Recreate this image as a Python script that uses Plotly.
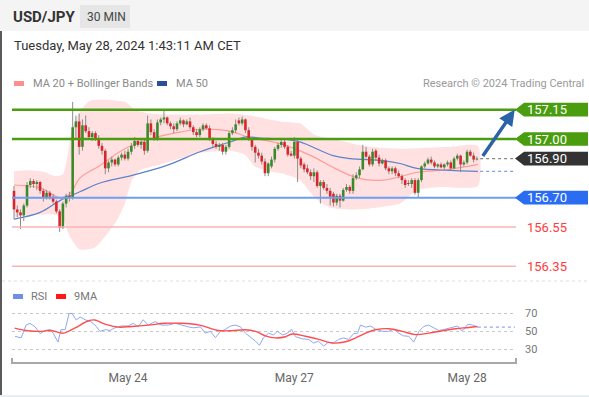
import plotly.graph_objects as go

# ---------------- data ----------------
opens = [156.735,156.64,156.625,156.61,156.66,156.765,156.785,156.77,156.78,156.735,
         156.70,156.725,156.705,156.68,156.63,156.545,156.67,156.71,156.70,157.06,
         157.09,156.96,157.07,157.04,157.01,157.03,157.00,156.965,156.94,156.85,
         156.88,156.895,156.87,156.905,156.92,156.90,156.935,156.965,156.99,156.97,
         156.985,156.94,157.08,157.035,157.00,157.085,157.10,157.11,157.08,157.065,
         157.05,157.08,157.095,157.075,157.09,157.06,157.035,157.02,157.05,157.07,
         157.055,157.00,156.975,156.96,156.97,156.935,156.96,157.03,157.045,157.095,
         157.08,157.10,157.045,157.00,156.96,156.93,156.915,156.885,156.825,156.86,
         156.895,156.95,156.97,156.985,156.96,156.925,156.915,156.985,156.90,156.87,
         156.85,156.83,156.81,156.83,156.76,156.78,156.75,156.735,156.72,156.675,
         156.71,156.685,156.74,156.755,156.735,156.80,156.815,156.845,156.935,156.91,
         156.87,156.94,156.905,156.875,156.89,156.85,156.835,156.85,156.825,156.81,
         156.79,156.775,156.77,156.79,156.725,156.79,156.86,156.875,156.895,156.88,
         156.86,156.87,156.855,156.87,156.88,156.85,156.90,156.915,156.87,156.88,
         156.935,156.915,156.895]
highs = [156.76,156.66,156.64,156.67,156.78,156.80,156.795,156.79,156.785,156.745,
         156.74,156.735,156.72,156.69,156.64,156.68,156.72,156.73,157.19,157.12,
         157.13,157.10,157.12,157.06,157.04,157.04,157.02,156.98,156.95,156.89,
         156.91,156.90,156.915,156.93,156.94,156.95,156.98,157.01,157.00,157.00,
         156.995,157.12,157.10,157.05,157.10,157.11,157.145,157.115,157.09,157.08,
         157.09,157.11,157.10,157.10,157.11,157.07,157.05,157.06,157.08,157.08,
         157.07,157.01,156.99,156.98,156.98,156.97,157.04,157.06,157.10,157.11,
         157.115,157.105,157.06,157.01,156.97,156.95,156.93,156.90,156.88,156.91,
         156.96,156.98,156.995,157.00,156.97,156.94,157.01,156.995,156.91,156.88,
         156.87,156.845,156.85,156.84,156.79,156.79,156.77,156.75,156.73,156.72,
         156.72,156.75,156.77,156.765,156.82,156.83,156.86,156.97,156.96,156.92,
         156.95,156.95,156.92,156.90,156.90,156.86,156.86,156.86,156.84,156.82,
         156.80,156.79,156.80,156.80,156.80,156.865,156.885,156.905,156.91,156.89,
         156.875,156.88,156.875,156.89,156.89,156.91,156.925,156.92,156.89,156.945,
         156.945,156.93,156.91]
lows = [156.59,156.60,156.54,156.58,156.65,156.75,156.75,156.74,156.72,156.68,
        156.69,156.69,156.67,156.62,156.525,156.54,156.65,156.68,156.69,157.00,
        156.92,156.94,157.03,157.00,156.99,156.99,156.95,156.92,156.82,156.83,
        156.86,156.86,156.86,156.89,156.89,156.89,156.92,156.95,156.96,156.95,
        156.92,156.93,157.02,156.99,156.99,157.07,157.08,157.07,157.05,157.03,
        157.04,157.07,157.06,157.07,157.05,157.02,157.01,157.01,157.04,157.05,
        156.99,156.96,156.95,156.94,156.92,156.92,156.95,157.02,157.03,157.07,
        157.07,157.03,156.99,156.94,156.88,156.90,156.87,156.81,156.81,156.85,
        156.88,156.94,156.955,156.95,156.91,156.91,156.90,156.78,156.85,156.83,
        156.82,156.79,156.78,156.75,156.67,156.74,156.72,156.66,156.655,156.66,
        156.65,156.68,156.73,156.72,156.72,156.79,156.80,156.84,156.90,156.86,
        156.86,156.89,156.86,156.87,156.84,156.82,156.82,156.81,156.80,156.77,
        156.75,156.76,156.75,156.715,156.70,156.78,156.85,156.87,156.87,156.85,
        156.85,156.85,156.845,156.86,156.84,156.845,156.89,156.83,156.86,156.87,
        156.91,156.88,156.89]
closes = [156.64,156.625,156.61,156.66,156.765,156.785,156.77,156.78,156.735,156.70,
          156.725,156.705,156.68,156.63,156.545,156.67,156.71,156.70,157.06,157.09,
          156.96,157.07,157.04,157.01,157.03,157.00,156.965,156.94,156.85,156.88,
          156.895,156.87,156.905,156.92,156.90,156.935,156.965,156.99,156.97,156.985,
          156.94,157.08,157.035,157.00,157.085,157.10,157.11,157.08,157.065,157.05,
          157.08,157.095,157.075,157.09,157.06,157.035,157.02,157.05,157.07,157.055,
          157.00,156.975,156.96,156.97,156.935,156.96,157.03,157.045,157.075,157.08,
          157.10,157.045,157.00,156.96,156.93,156.915,156.885,156.825,156.875,156.895,
          156.95,156.97,156.985,156.96,156.92,156.915,156.985,156.90,156.865,156.845,
          156.83,156.81,156.83,156.76,156.78,156.75,156.735,156.705,156.675,156.71,
          156.685,156.74,156.755,156.735,156.80,156.815,156.845,156.935,156.91,156.87,
          156.935,156.905,156.875,156.89,156.85,156.835,156.85,156.825,156.81,156.79,
          156.765,156.77,156.79,156.725,156.79,156.86,156.875,156.895,156.88,156.86,
          156.87,156.855,156.87,156.88,156.85,156.90,156.915,156.87,156.88,156.935,
          156.915,156.895,156.90]

# bar index positions of indicator samples
bb_upper_x = [0,4.9,9.5,12.6,15,16.3,17.8,20.2,23.3,29.4,34,37.1,41.7,47.9,57.1,66.3,72.4,81.6,87.7,92.3,97.9,103.1,109.2,118.4,133.7,142.3]
bb_upper = [156.835,156.84,156.83,156.81,156.82,156.90,157.05,157.14,157.195,157.20,157.19,157.15,157.13,157.125,157.125,157.13,157.12,157.09,157.08,157.02,157.00,156.98,156.96,156.95,156.96,156.965]
bb_lower_x = [0,4.9,11,14.7,17.2,20.2,24.8,27.9,31.6,34,36.2,38.7,44.8,50.9,57.1,66.3,70.9,73.9,78.5,83.1,87.7,92.3,96.9,103.1,109.2,118.4,123.9,130.7,142.3]
bb_lower = [156.60,156.61,156.615,156.60,156.50,156.435,156.445,156.50,156.585,156.67,156.79,156.84,156.87,156.90,156.93,156.94,156.92,156.86,156.835,156.82,156.79,156.70,156.65,156.64,156.645,156.67,156.74,156.755,156.76]
ma20_x = [0,8,14.1,17.2,20.2,26.4,34,41.7,50.9,57.1,66.3,71.8,81.9,91.1,98.5,105.5,113.2,123.9,133.7,142.3]
ma20 = [156.765,156.75,156.70,156.72,156.80,156.865,156.95,157.00,157.035,157.05,157.04,157.01,156.975,156.915,156.85,156.80,156.79,156.83,156.845,156.87]
ma50_x = [0,8,14.1,20.2,26.4,36.5,46.9,57.1,66.3,70.9,75.5,82.5,87.7,97.9,103.1,113.2,118.4,123.6,133.7,142.3]
ma50 = [156.59,156.625,156.685,156.73,156.775,156.815,156.865,156.935,156.985,157.01,157.005,157.00,156.985,156.915,156.90,156.89,156.875,156.85,156.84,156.835]

rsi_x = [0.3,2.2,3.7,4.9,6.5,8,9.5,11.1,12,13.5,14.4,15.7,16.9,17.8,19.1,20.3,21.8,23.4,24.9,26.4,
         28,29.5,31,32.9,35,36.6,38.1,39.6,41.2,43.3,45.2,47.3,49.5,51.3,53.5,55,57.2,58.7,60.2,61.8,
         63.3,64.8,66.4,67.9,69.5,71,72.8,74.1,75.3,76.5,78.1,79.6,80.8,82.4,83.9,85.1,86.4,88.5,90.4,91.9,
         93.4,95,96.5,98,99.6,101.1,102.6,104.2,105.4,106.3,107.9,109.4,110.9,113.1,114.9,116.5,118,119.5,121.1,122.6,
         124.2,125.7,127.2,128.8,130.3,131.8,133.4,134.9,136.1,137.1,138,139.2,140.7,142.3]
rsi = [44.5,42.7,57,59,55,47.5,51,52,48,38,52,52,70,70,62.7,66,63,61,57,50,
       52,51,54,56,56,59,55,63,57,61,57,57,59,57,55,54,55,48,50,43,
       50,52,56,57,55,48,43,39,34.5,42.7,48,46,50,46,48,52.5,44,41.6,41,37,
       39,33.6,38,37,41,42.7,41,47.5,48,57,54.7,56,52.5,50,50,52.5,48,45,44.5,38,
       50,55.5,57,53.6,51,52,53.6,55.5,56,51,52,58,57,54.7]
ma9_x = [0.2,4.3,8.4,11.5,15.1,18.6,22.7,24.8,27.9,32,36,41.2,46.3,51.4,57,62.7,66.8,70.9,74.1,77.1,
         80.2,83.3,85.3,89.4,93.5,97.6,101.7,104.8,107.9,110.9,115,119.1,123.2,127.3,131.4,135.5,139.6,142.2]
ma9 = [53.6,50.7,50,51,48,53.6,61.6,62.7,58,54.7,55.5,57,59,59,57,51,50.7,51.8,50,45,
       42.7,44,47,44.5,41,37,38.4,42.7,48,51.8,53,50,46.4,48,50.7,53,54.4,55.5]

date_ticks = [35, 86, 139]
date_labels = ["May 24", "May 27", "May 28"]

levels = [157.15, 157.00, 156.90, 156.70, 156.55, 156.35]
level_kinds = ["res", "res", "last", "piv", "sup", "sup"]
target = 157.15

# ---------------- styling ----------------
FONT = "Roboto, Arial, sans-serif"
W, H = 589, 397
ML, MR, MT, MB = 12, 73, 95, 29
N = len(closes)
idx = list(range(N))
x_left, x_right = -0.61, 154.0

GREEN = "#4a9d0e"
BLUE_LVL = "#2a6cf2"
RED_LVL = "#ff3b3b"
UP = "#3b8a2a"
DOWN = "#d8262c"

fig = go.Figure()

# Bollinger band area (closed polygon)
fig.add_trace(go.Scatter(
    x=bb_upper_x + bb_lower_x[::-1], y=bb_upper + bb_lower[::-1],
    fill="toself", fillcolor="rgba(255,205,205,0.6)", line=dict(width=0, shape="spline", smoothing=0.6),
    mode="lines", hoverinfo="skip", showlegend=False, xaxis="x", yaxis="y"))
fig.add_trace(go.Scatter(x=ma20_x, y=ma20, mode="lines", line=dict(color="#ff9b9b", width=1.2, shape="spline"),
                         showlegend=False, xaxis="x", yaxis="y"))
fig.add_trace(go.Scatter(x=ma50_x, y=ma50, mode="lines", line=dict(color="#5f82c8", width=1.2, shape="spline"),
                         showlegend=False, xaxis="x", yaxis="y"))

# candles drawn as segments so that they sit above the band fill
wx, wy = [], []
ux, uy, dx, dy = [], [], [], []
for i, (o, h, l, c) in enumerate(zip(opens, highs, lows, closes)):
    wx += [i, i, None]
    wy += [l, h, None]
    lo, hi = min(o, c), max(o, c)
    if hi - lo < 0.004:
        hi = lo + 0.004
    if c >= o:
        ux += [i, i, None]; uy += [lo, hi, None]
    else:
        dx += [i, i, None]; dy += [lo, hi, None]
fig.add_trace(go.Scatter(x=wx, y=wy, mode="lines", line=dict(color="#8c8c8c", width=1),
                         showlegend=False, hoverinfo="skip", xaxis="x", yaxis="y"))
fig.add_trace(go.Scatter(x=ux, y=uy, mode="lines", line=dict(color=UP, width=2.6),
                         showlegend=False, hoverinfo="skip", xaxis="x", yaxis="y"))
fig.add_trace(go.Scatter(x=dx, y=dy, mode="lines", line=dict(color=DOWN, width=2.6),
                         showlegend=False, hoverinfo="skip", xaxis="x", yaxis="y"))

# dotted extensions
last_i = N - 1
ext_x = [last_i + 1, x_right - 0.3]
fig.add_trace(go.Scatter(x=ext_x, y=[closes[-1]] * 2, mode="lines",
                         line=dict(color="#888888", width=1.2, dash="dot"), showlegend=False, xaxis="x", yaxis="y"))
fig.add_trace(go.Scatter(x=ext_x, y=[ma50[-1]] * 2, mode="lines",
                         line=dict(color="#7fa0e8", width=1.2, dash="dot"), showlegend=False, xaxis="x", yaxis="y"))

# RSI panel
fig.add_trace(go.Scatter(x=rsi_x, y=rsi, mode="lines", line=dict(color="#8ea8f2", width=1),
                         showlegend=False, xaxis="x2", yaxis="y2"))
fig.add_trace(go.Scatter(x=ma9_x, y=ma9, mode="lines", line=dict(color="#ff4d4d", width=1.4, shape="spline"),
                         showlegend=False, xaxis="x2", yaxis="y2"))
fig.add_trace(go.Scatter(x=[rsi_x[-1], x_right - 0.3], y=[rsi[-1]] * 2, mode="lines",
                         line=dict(color="#8ea8f2", width=1.2, dash="dot"), showlegend=False, xaxis="x2", yaxis="y2"))

shapes = []
annotations = []

def pxrect(px0, py0, px1, py1, color, line=None):
    return dict(type="rect", xref="paper", yref="paper", xsizemode="pixel", ysizemode="pixel",
                xanchor=0, yanchor=1, x0=px0 - ML, x1=px1 - ML, y0=MT - py1, y1=MT - py0,
                fillcolor=color, line=line or dict(width=0), layer="below")

def pxtext(px, py, text, size, color, xanchor="left", weight="normal"):
    return dict(xref="paper", yref="paper", x=0, y=1, xshift=px - ML, yshift=MT - py,
                xanchor=xanchor, yanchor="middle", text=text, showarrow=False,
                font=dict(family=FONT, size=size, color=color, weight=weight))

# header
shapes.append(pxrect(0, 0, W, 31, "#f4f4f4"))
shapes.append(pxrect(80, 5, 130, 28, "#e6e6e6"))
annotations.append(pxtext(11, 17, "USD/JPY", 15, "#333333", weight="bold"))
annotations.append(pxtext(85, 17, "30 MIN", 12, "#444444"))
annotations.append(pxtext(12, 45, "Tuesday, May 28, 2024 1:43:11 AM CET", 13, "#333333"))
# legends
shapes.append(pxrect(14, 81, 24, 86, "#ff8f8f"))
annotations.append(pxtext(31, 83, "MA 20 + Bollinger Bands", 11, "#8a8a8a"))
shapes.append(pxrect(157, 81, 167, 86, "#2c4f9a"))
annotations.append(pxtext(174, 83, "MA 50", 11, "#8a8a8a"))
annotations.append(pxtext(586, 83, "Research © 2024 Trading Central", 11, "#9a9a9a", xanchor="right"))
shapes.append(pxrect(13, 294, 23, 299, "#6d8fe8"))
annotations.append(pxtext(29, 296, "RSI", 11, "#777777"))
shapes.append(pxrect(56, 294, 66, 299, "#ff1a1a"))
annotations.append(pxtext(72, 296, "9MA", 11, "#777777"))
# frame elements
shapes.append(pxrect(0, 31, 2, H, "#5a5a5a"))
shapes.append(pxrect(0, 395, W, H, "#eaf0f2"))
shapes.append(dict(type="line", xref="paper", yref="paper", xsizemode="pixel", ysizemode="pixel",
                   xanchor=0, yanchor=1, x0=2 - ML, x1=W - ML, y0=MT - 281, y1=MT - 281,
                   line=dict(color="#dddddd", width=1, dash="dot")))
# x-axis bracket
shapes.append(dict(type="path", xref="paper", yref="paper", ysizemode="pixel", yanchor=0,
                   path="M 0,4 L 0,-1 L 1,-1 L 1,4", line=dict(color="#a8a8a8", width=2)))

# level lines and tags
half = 0.035
for lvl, kind in zip(levels, level_kinds):
    if kind == "res":
        lc, lw, tag = GREEN, 2.5, GREEN
    elif kind == "last":
        lc, lw, tag = None, 0, "#333333"
    elif kind == "piv":
        lc, lw, tag = "#6d9ef5", 2, BLUE_LVL
    else:
        lc, lw, tag = "#f9b5b5", 1.5, None
    if lc:
        shapes.append(dict(type="line", xref="paper", yref="y", x0=0, x1=1, y0=lvl, y1=lvl,
                           line=dict(color=lc, width=lw), layer="above"))
    if tag:
        shapes.append(dict(type="path", xref="paper", yref="y", xsizemode="pixel", xanchor=1,
                           path=f"M -1,{lvl} L 8,{lvl + half} L 72,{lvl + half} L 72,{lvl - half} L 8,{lvl - half} Z",
                           fillcolor=tag, line=dict(width=0)))
        annotations.append(dict(xref="paper", yref="y", x=1, y=lvl, xshift=9, xanchor="left",
                                yanchor="middle", text=f"{lvl:.2f}", showarrow=False,
                                font=dict(family=FONT, size=13, color="#ffffff")))
    else:
        annotations.append(dict(xref="paper", yref="y", x=1, y=lvl, xshift=9, xanchor="left",
                                yanchor="middle", text=f"{lvl:.2f}", showarrow=False,
                                font=dict(family=FONT, size=13, color=RED_LVL)))

# forecast arrow
annotations.append(dict(xref="x", yref="y", axref="x", ayref="y", x=x_right - 0.4, y=target,
                        ax=last_i + 1.5, ay=closes[-1] + 0.005, text="", showarrow=True,
                        arrowhead=2, arrowsize=0.9, arrowwidth=3.5, arrowcolor="#2b62a8"))

plot_h = H - MT - MB
fig.update_layout(
    width=W, height=H, margin=dict(l=ML, r=MR, t=MT, b=MB),
    paper_bgcolor="#ffffff", plot_bgcolor="rgba(0,0,0,0)",
    showlegend=False, font=dict(family=FONT), hovermode=False,
    xaxis=dict(domain=[0, 1], anchor="y", range=[x_left, x_right], showticklabels=False,
               showgrid=False, zeroline=False, showline=False),
    yaxis=dict(domain=[(368 - 275) / plot_h, 1], anchor="x", range=[156.325, 157.225],
               showticklabels=False, showgrid=False, zeroline=False, showline=False),
    xaxis2=dict(domain=[0, 1], anchor="y2", range=[x_left, x_right], matches="x",
                tickvals=date_ticks, ticktext=date_labels, ticks="outside", ticklen=5,
                tickcolor="rgba(0,0,0,0)", tickfont=dict(size=12, color="#666666", family=FONT),
                showgrid=False, zeroline=False, showline=False),
    yaxis2=dict(domain=[0, (368 - 305) / plot_h], anchor="x2", range=[15.8, 84.6], side="right",
                tickvals=[30, 50, 70], showgrid=True, gridcolor="#c8c8c8", griddash="dot", gridwidth=1,
                zeroline=False, showline=False, ticks="", ticklabelstandoff=8,
                tickfont=dict(size=11, color="#777777", family=FONT)),
    shapes=shapes, annotations=annotations,
)

fig.write_html("out.html", config={"displayModeBar": False},
               post_script="document.body.style.margin='0';document.body.style.overflow='hidden';")
